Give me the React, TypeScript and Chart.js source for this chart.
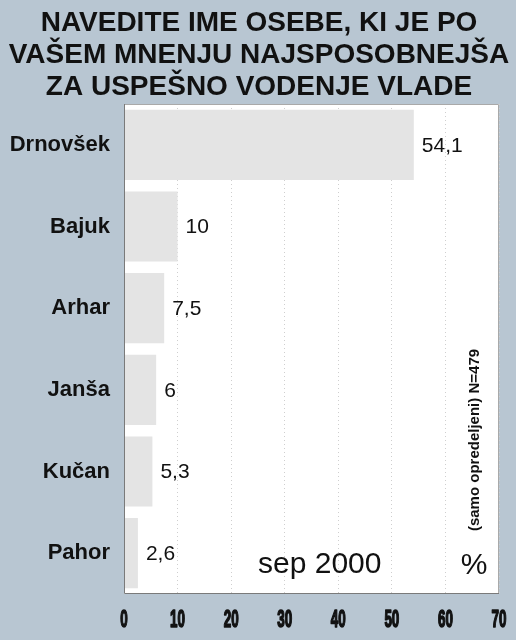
import React, { useEffect, useRef } from "react";
import { Chart, registerables, Plugin } from "chart.js";

Chart.register(...registerables);

const titleLines = [
  "NAVEDITE IME OSEBE, KI JE PO",
  "VAŠEM MNENJU NAJSPOSOBNEJŠA",
  "ZA USPEŠNO VODENJE VLADE",
];
const candidates = ["Drnovšek", "Bajuk", "Arhar", "Janša", "Kučan", "Pahor"];
const shares = [54.1, 10, 7.5, 6, 5.3, 2.6];
const xMax = 70;
const xStep = 10;
const periodLabel = "sep 2000";
const unitLabel = "%";
const sampleNote = "(samo opredeljeni) N=479";

const BG = "#b8c6d2";
const SANS = "'Liberation Sans', Arial, sans-serif";

// title centred on the whole canvas, not on the padded box
const centredTitle: Plugin<"bar"> = {
  id: "centredTitle",
  afterDraw(chart) {
    const { ctx, width } = chart;
    ctx.save();
    ctx.font = `bold 28px ${SANS}`;
    ctx.fillStyle = "#111";
    ctx.textAlign = "center";
    ctx.textBaseline = "middle";
    titleLines.forEach((line, i) => ctx.fillText(line, width / 2 + 1, 23 + i * 32.3));
    ctx.restore();
  },
};

// condensed x tick labels (the original uses a narrow face)
const narrowTicks: Plugin<"bar"> = {
  id: "narrowTicks",
  afterDraw(chart) {
    const { ctx } = chart;
    const xs: any = chart.scales.x;
    ctx.save();
    ctx.font = `bold 24px ${SANS}`;
    ctx.fillStyle = "#111";
    ctx.strokeStyle = "#111";
    ctx.lineWidth = 1.6;
    ctx.lineJoin = "round";
    ctx.textAlign = "center";
    ctx.textBaseline = "middle";
    for (const t of xs.ticks) {
      const px = xs.getPixelForValue(t.value);
      ctx.save();
      ctx.translate(px, chart.chartArea.bottom + 26);
      ctx.scale(0.56, 1);
      ctx.strokeText(String(t.value), 0, 0);
      ctx.fillText(String(t.value), 0, 0);
      ctx.restore();
    }
    ctx.restore();
  },
};

const frameAndNotes: Plugin<"bar"> = {
  id: "frameAndNotes",
  beforeDraw(chart) {
    const { ctx, chartArea: a } = chart;
    ctx.save();
    ctx.fillStyle = "#ffffff";
    ctx.fillRect(a.left, a.top, a.right - a.left, a.bottom - a.top);
    ctx.restore();
  },
  afterDatasetsDraw(chart) {
    const { ctx, chartArea: a } = chart;
    const meta = chart.getDatasetMeta(0);
    ctx.save();
    // value labels
    ctx.font = `21px ${SANS}`;
    ctx.fillStyle = "#111";
    ctx.textBaseline = "middle";
    ctx.textAlign = "left";
    meta.data.forEach((el: any, i) => {
      const v = shares[i];
      ctx.fillText(String(v).replace(".", ","), el.x + 8, el.y + 1);
    });

    // frame
    ctx.lineWidth = 1;
    ctx.strokeStyle = "#a9a9a9";
    ctx.beginPath();
    ctx.moveTo(a.left, a.top + 0.5);
    ctx.lineTo(a.right - 0.5, a.top + 0.5);
    ctx.lineTo(a.right - 0.5, a.bottom);
    ctx.stroke();
    ctx.strokeStyle = "#7a7a7a";
    ctx.beginPath();
    ctx.moveTo(a.left + 0.5, a.top);
    ctx.lineTo(a.left + 0.5, a.bottom - 0.5);
    ctx.lineTo(a.right, a.bottom - 0.5);
    ctx.stroke();

    // notes
    ctx.fillStyle = "#111";
    ctx.font = `30px ${SANS}`;
    ctx.textAlign = "left";
    ctx.fillText(periodLabel, a.left + 134, a.bottom - 29);
    ctx.textAlign = "center";
    ctx.fillText(unitLabel, a.right - 25, a.bottom - 28);

    ctx.translate(a.right - 24, a.bottom - 154);
    ctx.rotate(-Math.PI / 2);
    ctx.font = `bold 15px ${SANS}`;
    ctx.textAlign = "center";
    ctx.fillText(sampleNote, 0, 0);
    ctx.restore();
  },
};

export default function App() {
  const canvasRef = useRef<HTMLCanvasElement | null>(null);

  useEffect(() => {
    document.body.style.margin = "0";
    const ctx = canvasRef.current?.getContext("2d");
    if (!ctx) return;

    const chart = new Chart(ctx, {
      type: "bar",
      data: {
        labels: candidates,
        datasets: [
          {
            data: shares,
            backgroundColor: "#e4e4e4",
            borderWidth: 0,
            barPercentage: 0.86,
            categoryPercentage: 1,
          },
        ],
      },
      options: {
        indexAxis: "y",
        responsive: false,
        animation: false,
        layout: { padding: { top: 104, right: 17, bottom: 0, left: 0 } },
        scales: {
          x: {
            min: 0,
            max: xMax,
            ticks: {
              stepSize: xStep,
              color: "rgba(0,0,0,0)",
              padding: 12,
              font: { family: SANS, size: 1 },
            },
            grid: { color: "#cfcfcf", drawTicks: false, lineWidth: 1 },
            border: { display: false, dash: [1, 3] },
            afterFit: (s: any) => { s.height = 46; },
          },
          y: {
            ticks: {
              color: "#111",
              padding: 14,
              font: { family: SANS, size: 22, weight: "bold" },
            },
            grid: { display: false, drawTicks: false },
            border: { display: false },
            afterFit: (s: any) => { s.width = 124; },
          },
        },
        plugins: {
          legend: { display: false },
          tooltip: { enabled: false },
          title: { display: false },
        },
      },
      plugins: [frameAndNotes, narrowTicks, centredTitle],
    });

    return () => { chart.destroy(); };
  }, []);

  return (
    <div style={{ width: 516, height: 640, background: BG }}>
      <canvas ref={canvasRef} width={516} height={640} />
    </div>
  );
}
